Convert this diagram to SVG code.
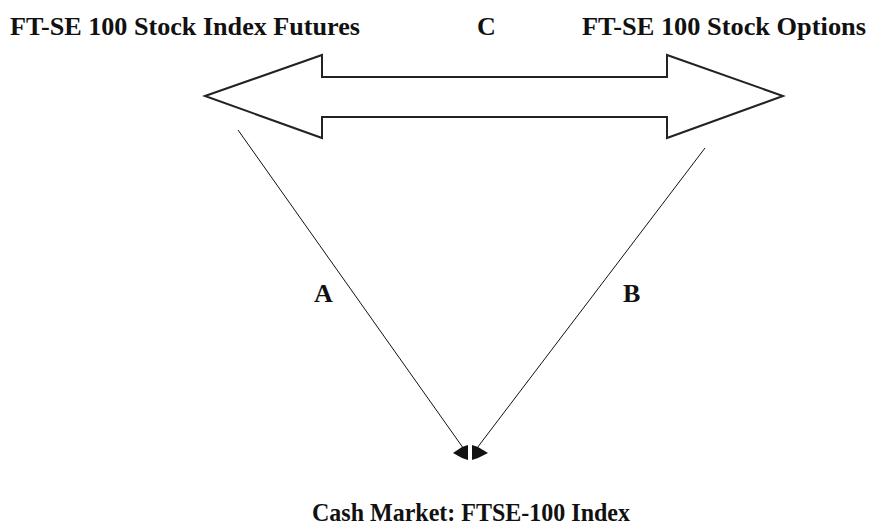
<svg xmlns="http://www.w3.org/2000/svg" width="871" height="526" viewBox="0 0 871 526">
<style>
.t{font-family:"Liberation Serif","Times New Roman",serif;font-weight:bold;font-size:26px;fill:#111}
.ln{stroke:#111;stroke-width:1;fill:none}
.ah{fill:#111}
</style>
<rect width="871" height="526" fill="#fff"/>
<g id="futures"><text class="t" x="10" y="35" textLength="350" lengthAdjust="spacingAndGlyphs">FT-SE 100 Stock Index Futures</text></g>
<g id="options"><text class="t" x="582" y="35" textLength="284" lengthAdjust="spacingAndGlyphs">FT-SE 100 Stock Options</text></g>
<g id="cash"><text class="t" x="312" y="521" font-size="25" textLength="318" lengthAdjust="spacingAndGlyphs">Cash Market: FTSE-100 Index</text></g>
<g id="connectors">
<g id="c-link">
<polygon points="205,96 322,55 322,77 667,77 667,55 783,96 667,138 667,117 322,117 322,138" fill="#fff" stroke="#222" stroke-width="2" stroke-linejoin="miter"/>
<text class="t" x="477" y="35">C</text>
</g>
<g id="a-link">
<line class="ln" x1="238" y1="130" x2="466" y2="452"/>
<polygon class="ah" points="453,453 462,447 468,445 468,460 462,458"/>
<text class="t" x="314" y="302">A</text>
</g>
<g id="b-link">
<line class="ln" x1="705" y1="148" x2="474" y2="452"/>
<polygon class="ah" points="472,445 478,447 488,453 478,458 472,460"/>
<text class="t" x="623" y="302">B</text>
</g>
</g>
</svg>
